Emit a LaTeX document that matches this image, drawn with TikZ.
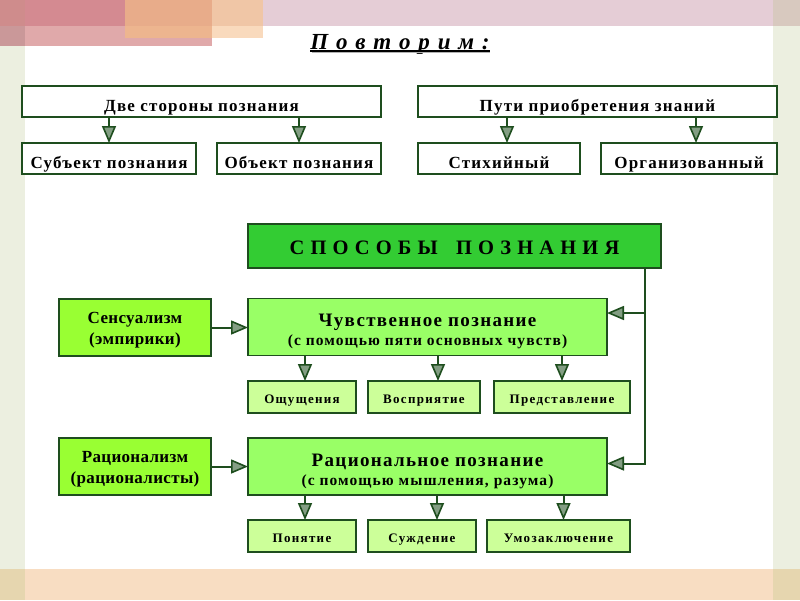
\documentclass[tikz,border=0pt]{standalone}
\usepackage{fontspec}
\setmainfont{Liberation Serif}
\newfontfamily\titlefont[LetterSpace=9]{Liberation Serif}
\newfontfamily\boxfont[LetterSpace=7]{Liberation Serif}
\newfontfamily\headfont[LetterSpace=5]{Liberation Serif}
\newfontfamily\sidefont[LetterSpace=2]{Liberation Serif}
\newfontfamily\smallfont[LetterSpace=10]{Liberation Serif}
\usetikzlibrary{arrows.meta, positioning, calc}
\definecolor{darkgreen}{RGB}{30,78,30}
\definecolor{headgreen}{RGB}{51,204,51}
\definecolor{limegreen}{RGB}{153,255,51}
\definecolor{midgreen}{RGB}{153,255,102}
\definecolor{palegreen}{RGB}{204,255,153}
\definecolor{stripgreen}{RGB}{236,239,224}
\definecolor{bandpink}{RGB}{229,205,214}
\definecolor{rosepink}{RGB}{212,138,145}
\definecolor{lightrose}{RGB}{224,169,170}
\definecolor{darkrose}{RGB}{207,140,140}
\definecolor{orange1}{RGB}{232,172,138}
\definecolor{orange2}{RGB}{237,181,143}
\definecolor{apricot1}{RGB}{240,198,166}
\definecolor{apricot2}{RGB}{249,218,189}
\definecolor{peachband}{RGB}{248,221,194}
\definecolor{corner}{RGB}{230,214,175}
\definecolor{graybeige}{RGB}{216,201,191}

\begin{document}
\begin{tikzpicture}[x=1pt, y=-1pt,
    box/.style={draw=darkgreen, line width=1.9pt, fill=white, inner sep=0pt, outer sep=0pt,
        text height=19pt, text depth=0pt, font=\boxfont\fontsize{17}{20}\selectfont\bfseries},
    smallbox/.style={box, fill=palegreen, minimum height=32pt, text height=12.6pt,
        font=\smallfont\fontsize{13}{15}\selectfont\bfseries},
    sidebox/.style={box, fill=limegreen, minimum width=152pt, minimum height=57pt, align=center,
        text height={}, text depth={}, font=\sidefont\fontsize{17}{20.7}\selectfont\bfseries},
    bigbox/.style={box, fill=midgreen, minimum width=359pt, minimum height=57pt, align=center,
        text height={}, text depth={}},
    conn/.style={draw=darkgreen, line width=2pt,
        -{Triangle[length=17pt, width=14pt, fill=darkgreen!55, line width=1.6pt]}}]

    % Page size and background
    \useasboundingbox (0,0) rectangle (800,600);
    \fill[white] (0,0) rectangle (800,600);
    \fill[stripgreen] (0,0) rectangle (25,600);
    \fill[stripgreen] (773,0) rectangle (800,600);
    \fill[bandpink] (0,0) rectangle (800,26);
    \fill[lightrose] (0,0) rectangle (212,46);
    \fill[rosepink] (0,0) rectangle (125,26);
    \fill[orange2] (125,0) rectangle (212,38);
    \fill[orange1] (125,0) rectangle (212,26);
    \fill[apricot2] (212,0) rectangle (263,38);
    \fill[apricot1] (212,0) rectangle (263,26);
    \fill[darkrose] (0,0) rectangle (25,26);
    \fill[lightrose!90!black] (0,26) rectangle (25,46);
    \fill[graybeige] (773,0) rectangle (800,26);
    \fill[peachband] (0,569) rectangle (800,600);
    \fill[corner] (0,569) rectangle (25,600);
    \fill[corner] (773,569) rectangle (800,600);

    % Title
    \node[inner sep=0pt, font=\titlefont\fontsize{23}{26}\selectfont\bfseries\itshape] (title) at (400,44) {П о в т о р и м :};
    \draw[gray!60, line width=1.5pt] ([yshift=-3.5pt]title.base west) ++(1.5,0) -- ([yshift=-3.5pt]title.base east);
    \draw[black, line width=1.6pt] ([yshift=-2pt]title.base west) -- ([yshift=-2pt]title.base east);

    % Upper two groups
    \node[box, minimum width=359pt, minimum height=31pt] (sides) at (201.5,101.5) {Две стороны познания};
    \node[box, minimum width=174pt, minimum height=31pt] (subject) at (109,158.5) {Субъект познания};
    \node[box, minimum width=164pt, minimum height=31pt] (object) at (299,158.5) {Объект познания};
    \node[box, minimum width=359pt, minimum height=31pt] (ways) at (597.5,101.5) {Пути приобретения знаний};
    \node[box, minimum width=162pt, minimum height=31pt] (spont) at (499,158.5) {Стихийный};
    \node[box, minimum width=176pt, minimum height=31pt] (organized) at (689,158.5) {Организованный};

    \draw[conn] (sides.south -| subject.north) -- (subject.north);
    \draw[conn] (sides.south -| object.north) -- (object.north);
    \draw[conn] ([xshift=8pt]ways.south -| spont.north) -- ([xshift=8pt]spont.north);
    \draw[conn] ([xshift=7pt]ways.south -| organized.north) -- ([xshift=7pt]organized.north);

    % Ways of cognition
    \node[box, fill=headgreen, minimum width=413pt, minimum height=44pt, text height=17pt,
          font=\headfont\fontsize{20.5}{23}\selectfont\bfseries] (methods) at (454.5,246) {С П О С О Б Ы \ \ П О З Н А Н И Я};

    \node[sidebox] (sensual) at (135,327.5) {\rule{0pt}{16pt}Сенсуализм\\(эмпирики)};
    \node[bigbox] (senses) at (427.5,327)
        {{\boxfont\fontsize{19}{21}\selectfont\rule{0pt}{22pt}Чувственное познание}\\[-1pt]{\boxfont\fontsize{15.5}{17}\selectfont(с помощью пяти основных чувств)}};
    \node[smallbox, minimum width=108pt] (sensation) at (302,397) {Ощущения};
    \node[smallbox, minimum width=112pt] (perception) at (424,397) {Восприятие};
    \node[smallbox, minimum width=136pt] (idea) at (562,397) {Представление};

    \node[sidebox] (rational) at (135,466.5) {\rule{0pt}{16pt}Рационализм\\(рационалисты)};
    \node[bigbox] (reason) at (427.5,466.5)
        {{\boxfont\fontsize{19}{21}\selectfont\rule{0pt}{22pt}Рациональное познание}\\[-1pt]{\boxfont\fontsize{15.5}{17}\selectfont(с помощью мышления, разума)}};
    \node[smallbox, minimum width=108pt] (concept) at (302,536) {Понятие};
    \node[smallbox, minimum width=108pt] (judgement) at (422,536) {Суждение};
    \node[smallbox, minimum width=143pt] (inference) at (558.5,536) {Умозаключение};

    % Arrows into the small boxes
    \draw[conn] ([xshift=3pt]senses.south -| sensation.north) -- ([xshift=3pt]sensation.north);
    \draw[conn] ([xshift=14pt]senses.south -| perception.north) -- ([xshift=14pt]perception.north);
    \draw[conn] (senses.south -| idea.north) -- (idea.north);
    \draw[conn] ([xshift=3pt]reason.south -| concept.north) -- ([xshift=3pt]concept.north);
    \draw[conn] ([xshift=15pt]reason.south -| judgement.north) -- ([xshift=15pt]judgement.north);
    \draw[conn] ([xshift=5pt]reason.south -| inference.north) -- ([xshift=5pt]inference.north);

    % Side arrows
    \draw[conn] (sensual.east) -- (sensual.east -| senses.west);
    \draw[conn] (rational.east) -- (rational.east -| reason.west);

    % Branch from the heading box
    \coordinate (branch) at ($(methods.south east)+(-16,0)$);
    \draw[conn] (branch) |- ([yshift=14pt]senses.east);
    \draw[conn] (branch) |- ([yshift=3pt]reason.east);
\end{tikzpicture}
\end{document}
